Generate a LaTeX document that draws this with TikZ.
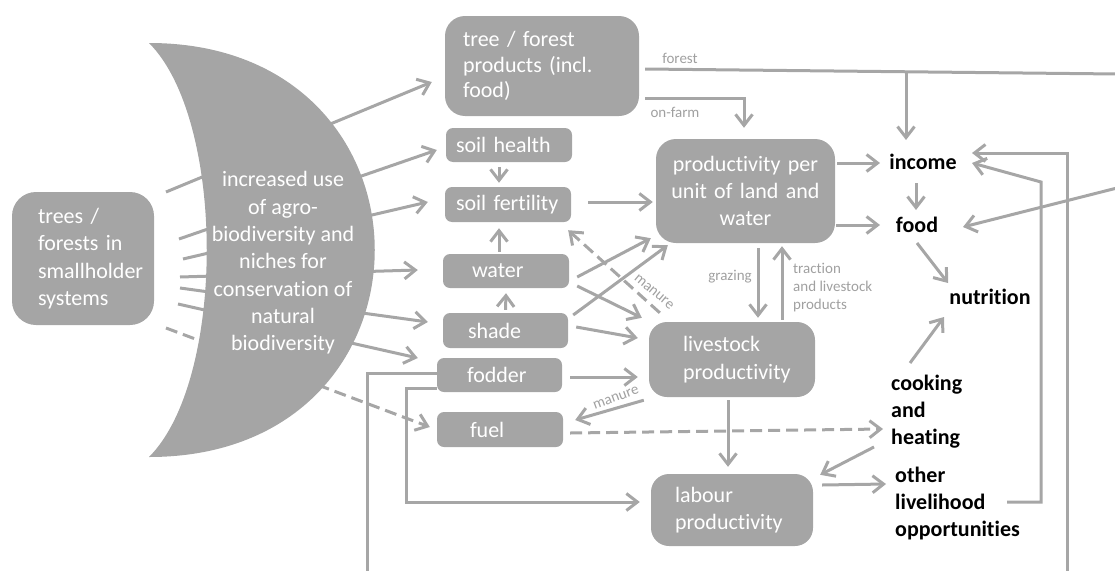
\documentclass[tikz,border=0pt]{standalone}
\usepackage{fontspec}
\setmainfont{Carlito}[Ligatures=NoCommon, RawFeature=-liga, RawFeature=-clig, RawFeature=-dlig, RawFeature=-calt]
\usetikzlibrary{arrows.meta,calc}
\definecolor{boxgray}{HTML}{A5A5A5}
\definecolor{lgray}{HTML}{A6A6A6}
\definecolor{lblgray}{HTML}{A0A0A0}
\begin{document}
\begin{tikzpicture}[x=1pt,y=-1pt,
  gbox/.style={fill=boxgray, text=white, rounded corners=7pt, inner ysep=0pt, align=left,
    font=\fontsize{22}{27.3}\selectfont},
  outl/.style={text=black, font=\bfseries\fontsize{22}{27}\selectfont, inner sep=0pt, align=left},
  conn/.style={draw=lgray, line width=3pt},
  arr/.style={conn, -{Straight Barb[length=11pt,width=17pt]}},
  dsh/.style={dash pattern=on 12pt off 6pt},
  small/.style={text=lblgray, font=\fontsize{15}{18}\selectfont, inner sep=0pt}
]
\useasboundingbox (0,0) rectangle (1115,570);

% ---------- boxes ----------
\node[gbox, rounded corners=24pt, text width=90pt, inner xsep=26pt, minimum height=133pt] (trees) at (83,258.5)
  {trees /\\forests in\\smallholder\\systems};
\node[gbox, rounded corners=20pt, text width=158pt, inner xsep=18pt, minimum height=100pt,
  font=\fontsize{22}{25.5}\selectfont] (tp) at (542,66)
  {tree / forest\\products (incl.\\food)};
\node[gbox, text width=106pt, inner xsep=10pt, minimum height=34pt] (sh) at (509,145) {soil health};
\node[gbox, text width=104pt, inner xsep=11pt, minimum height=35pt] (sf) at (508,204.5) {soil fertility};
\node[gbox, text width=68pt, inner xsep=29pt, minimum height=34pt] (wa) at (506,271) {water};
\node[gbox, text width=75pt, inner xsep=25pt, minimum height=35pt] (sd) at (505.5,330.5) {shade};
\node[gbox, text width=65pt, inner xsep=30pt, minimum height=34pt] (fo) at (499.5,375) {fodder};
\node[gbox, text width=60pt, inner xsep=33pt, minimum height=35pt] (fu) at (500,429.5) {fuel};
\node[gbox, rounded corners=20pt, text width=165pt, inner xsep=7pt, minimum height=104pt, align=center] (pr) at (745.5,191)
  {productivity per\\unit of land and\\water};
\node[gbox, rounded corners=18pt, text width=98pt, inner xsep=34pt, minimum height=75pt] (ls) at (732,359.5)
  {livestock\\productivity};
\node[gbox, rounded corners=18pt, text width=114pt, inner xsep=24pt, minimum height=72pt] (lb) at (732,510)
  {labour\\productivity};

% ---------- outcome labels ----------
\node[outl] (income) at (923,162) {income};
\node[outl] (food) at (917,225) {food};
\node[outl] (nutrition) at (990,297) {nutrition};
\node[outl, anchor=west] (ck) at (891,412) {cooking\\and\\heating};
\node[outl, anchor=west] (ot) at (895,504) {other\\livelihood\\opportunities};

% ---------- lines from trees box (behind the crescent) ----------
\coordinate (s1) at (166,192);
\coordinate (s2) at (179,239);
\coordinate (s3) at (183,259);
\coordinate (s4) at (180,277);
\coordinate (s5) at (180,288);
\coordinate (s6) at (178,304);
\coordinate (s7) at (166,328);
\draw[arr] (s1) -- ($(tp.west)+(-13,16)$);
\draw[arr] (s2) -- ($(sh.west)+(-9,5)$);
\draw[arr] (s3) -- ($(sf.west)+(-17,-2.5)$);
\draw[arr] (s4) -- ($(wa.west)+(-25,-1)$);
\draw[arr] (s5) -- ($(sd.west)+(-15,-8.5)$);
\draw[arr] (s6) -- ($(fo.west)+(-19,-17)$);
\draw[arr, dsh] (s7) -- ($(fu.west)+(-7,-2.5)$);

% ---------- crescent ----------
\fill[boxgray] (149,43) .. controls (450,43) and (450,457) .. (149,457)
  .. controls (226,380) and (226,120) .. cycle;
\node[text=white, align=center, font=\fontsize{22}{27.3}\selectfont] (inc) at (283,263)
  {increased use\\of agro-\\biodiversity and\\niches for\\conservation of\\natural\\biodiversity};

% ---------- tree products ----------
\coordinate (fj) at (906,72);
\draw[arr] ($(tp.east)+(6,3)$) -- (1117,74) -- (1117,188) -- ($(food)+(46,2)$);
\draw[arr] (fj) -- ($(income)+(-17,-22)$);
\node[small] (lforest) at (680,58) {forest};
\draw[arr] ($(tp.east)+(6,32)$) -| ($(pr.north)+(-1.5,-11)$);
\node[small] (lonfarm) at (675,112) {on-farm};

% ---------- small boxes ----------
\draw[arr] ($(sh.south)+(-10,5)$) -- ($(sf.north)+(-9,-4)$);
\draw[arr] ($(wa.north)+(-7,-2)$) -- ($(sf.south)+(-9,6)$);
\draw[arr] ($(sd.north)+(0,-3)$) -- ($(wa.south)+(0,5)$);
\draw[arr] ($(sf.east)+(17,-2.5)$) -- ($(pr.west)+(-3,11)$);
\draw[arr] ($(wa.east)+(8,6)$) -- ($(pr.south west)+(-5,-5)$);
\draw[arr] ($(sd.east)+(5,-15.5)$) -- ($(pr.south west)+(12,2)$);
\draw[arr] ($(wa.east)+(8,15)$) -- ($(ls.north west)+(-7,-4)$);
\draw[arr] ($(sd.east)+(8,-3.5)$) -- ($(ls.west)+(-11,-21.5)$);
\draw[arr] ($(fo.east)+(8,2)$) -- ($(ls.west)+(-11,17.5)$);

% manure
\draw[arr] ($(ls.south west)+(-5,3)$) -- ($(fu.east)+(12,-9.5)$);
\node[small, rotate=20] (lman1) at (616,398) {manure};
\draw[arr, dsh] ($(ls.north west)+(11,-9)$) -- ($(sf.south east)+(-3,8)$);
\node[small, rotate=-40] (lman2) at (654,292) {manure};

% grazing / traction
\draw[arr] ($(pr.south)+(12.5,5)$) -- ($(ls.north)+(26,-4)$);
\node[small] (lgraz) at (730,277) {grazing};
\draw[arr] ($(ls.north)+(50,-2)$) -- ($(pr.south)+(36.5,3)$);
\node[small, anchor=west, align=left] (ltrac) at (793,288) {traction\\and livestock\\products};

% outcomes
\draw[arr] ($(pr.east)+(2,-28)$) -- ($(income)+(-43,1)$);
\draw[arr] ($(pr.east)+(1,34)$) -- ($(food)+(-37,0)$);
\draw[arr] ($(income)+(-7,21)$) -- ($(food)+(-1,-15)$);
\draw[arr] ($(food)+(0,18)$) -- ($(nutrition)+(-42,-14)$);
\draw[arr] ($(ck.west)+(19,-49)$) -- ($(nutrition)+(-46,20)$);
\draw[arr, dsh] ($(fu.east)+(7,3.5)$) -- ($(ck.west)+(-8,17)$);
\draw[arr] ($(ck.west)+(-17,35)$) -- ($(lb.north east)+(7,1)$);
\draw[arr] ($(lb.east)+(9,-25)$) -- ($(ot.west)+(-9,-20)$);
\draw[arr] ($(ls.south)+(-4,3)$) -- ($(lb.north)+(-4,-7)$);
\draw[arr] ($(ot.west)+(112,-2)$) -| ($(income)+(118,20)$) -- ($(income)+(49,1)$);

% fodder routes
\draw[arr] ($(fo.west)+(0,-2)$) -| ($(fo.west)+(-69,200)$) -| ($(income)+(144,-9)$) -- ($(income)+(49,-9)$);
\draw[arr] ($(fo.west)+(0,13)$) -| ($(fo.west)+(-30,127)$) -- ($(lb.west)+(-11,-8)$);
\end{tikzpicture}
\end{document}
